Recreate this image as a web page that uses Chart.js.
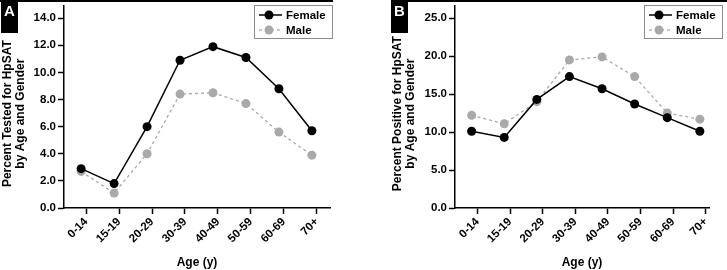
<!DOCTYPE html>
<html>
<head>
<meta charset="utf-8">
<script src="https://cdn.jsdelivr.net/npm/chart.js@4.4.0/dist/chart.umd.min.js"></script>
<style>
  body { margin: 0; background: #fff; width: 727px; height: 270px; overflow: hidden; position: relative; }
  canvas { position: absolute; top: 0; }
  #chart-tested { left: 0; }
  #chart-positive { left: 365px; }
</style>
</head>
<body>
<canvas id="chart-tested" width="363" height="270"></canvas>
<canvas id="chart-positive" width="362" height="270"></canvas>
<script>
// data
const ageGroups = ['0-14', '15-19', '20-29', '30-39', '40-49', '50-59', '60-69', '70+'];
const testedFemale = [2.9, 1.8, 6.0, 10.9, 11.9, 11.1, 8.8, 5.7];
const testedMale = [2.7, 1.1, 4.0, 8.4, 8.5, 7.7, 5.6, 3.9];
const positiveFemale = [10.1, 9.3, 14.3, 17.3, 15.7, 13.7, 11.9, 10.1];
const positiveMale = [12.2, 11.1, 14.0, 19.5, 19.9, 17.3, 12.5, 11.7];
const testedTicks = [0, 2, 4, 6, 8, 10, 12, 14];
const positiveTicks = [0, 5, 10, 15, 20, 25];

const FONT = '"Liberation Sans", Arial, Helvetica, sans-serif';
const BLACK = '#000';
const GREY = '#a9a9a9';

// top rule, panel letter tab and the boxed legend
const panelDecor = {
  id: 'panelDecor',
  afterDraw(chart, args, o) {
    const ctx = chart.ctx;
    ctx.save();
    ctx.fillStyle = BLACK;
    ctx.fillRect(o.ruleFrom, 0, o.ruleTo - o.ruleFrom, 2);
    ctx.fillRect(o.tabX, 0, 17, 33);
    ctx.fillStyle = '#fff';
    ctx.font = 'bold 15px ' + FONT;
    ctx.textAlign = 'center';
    ctx.textBaseline = 'middle';
    ctx.fillText(o.letter, o.tabX + 8.5, 12);

    const lg = o.legend;
    ctx.strokeStyle = '#8c8c8c';
    ctx.lineWidth = 1;
    ctx.strokeRect(lg.x + 0.5, 5.5, lg.w, 33);
    ctx.font = 'bold 11.5px ' + FONT;
    ctx.textAlign = 'left';
    chart.data.datasets.forEach((ds, i) => {
      const cy = 15 + i * 15;
      ctx.strokeStyle = ds.borderColor;
      ctx.lineWidth = ds.borderWidth;
      ctx.setLineDash(ds.borderDash || []);
      ctx.beginPath();
      ctx.moveTo(lg.x + 5, cy);
      ctx.lineTo(lg.x + 28, cy);
      ctx.stroke();
      ctx.setLineDash([]);
      ctx.fillStyle = ds.pointBackgroundColor;
      ctx.beginPath();
      ctx.arc(lg.x + 15, cy, ds.pointRadius, 0, Math.PI * 2);
      ctx.fill();
      ctx.fillStyle = BLACK;
      ctx.fillText(ds.label, lg.x + 32, cy + 0.5);
    });
    ctx.restore();
  }
};

function series(values) {
  return values.map((v, i) => ({ x: i, y: v }));
}

function makeChart(id, cfg) {
  const tickFont = { family: FONT, size: 11.5, weight: 'bold' };
  const titleFont = { family: FONT, size: 12, weight: 'bold', lineHeight: 1.1 };

  return new Chart(document.getElementById(id), {
    type: 'line',
    data: {
      datasets: [
        {
          label: 'Female',
          data: series(cfg.female),
          borderColor: BLACK,
          borderWidth: 1.5,
          pointBackgroundColor: BLACK,
          pointBorderColor: BLACK,
          pointRadius: 4.5,
          pointBorderWidth: 0
        },
        {
          label: 'Male',
          data: series(cfg.male),
          borderColor: GREY,
          borderWidth: 1.3,
          borderDash: [3, 3],
          pointBackgroundColor: GREY,
          pointBorderColor: GREY,
          pointRadius: 4.5,
          pointBorderWidth: 0
        }
      ]
    },
    options: {
      responsive: false,
      animation: false,
      layout: { padding: { left: cfg.padLeft, top: 6, right: cfg.padRight, bottom: 0 } },
      plugins: {
        legend: { display: false },
        tooltip: { enabled: false },
        panelDecor: cfg.decor
      },
      scales: {
        x: {
          type: 'linear',
          min: cfg.xMin,
          max: cfg.xMax,
          afterBuildTicks: s => { s.ticks = ageGroups.map((c, i) => ({ value: i + cfg.tickShift })); },
          afterFit: s => { s.height = 62; s.paddingLeft = 0; s.paddingRight = 0; },
          border: { color: BLACK, width: 1.5 },
          grid: { drawOnChartArea: false, tickLength: 6, tickColor: BLACK, tickWidth: 1.5 },
          ticks: {
            autoSkip: false, minRotation: 45, maxRotation: 45, padding: 1,
            color: BLACK, font: tickFont,
            callback: (v, i) => ageGroups[i]
          },
          title: { display: true, text: 'Age (y)', color: BLACK, font: titleFont, padding: { top: 0, bottom: 1 } }
        },
        y: {
          type: 'linear',
          min: 0,
          max: cfg.yMax,
          afterBuildTicks: s => { s.ticks = cfg.yTicks.map(v => ({ value: v })); },
          afterFit: s => { s.width = cfg.axisLeft - cfg.padLeft; s.paddingTop = 0; s.paddingBottom = 0; },
          border: { color: BLACK, width: 1.5 },
          grid: { drawOnChartArea: false, tickLength: 6, tickColor: BLACK, tickWidth: 1.5 },
          ticks: { color: BLACK, font: tickFont, padding: 2, callback: v => v.toFixed(1) },
          title: {
            display: true, text: cfg.yTitle, color: BLACK, font: titleFont,
            padding: { top: 0, bottom: 0 }
          }
        }
      }
    },
    plugins: [panelDecor]
  });
}

makeChart('chart-tested', {
  female: testedFemale,
  male: testedMale,
  yTicks: testedTicks,
  yMax: 14.9,
  xMin: -0.52,
  xMax: 7.55,
  tickShift: 0.15,
  padLeft: 1,
  axisLeft: 64,
  padRight: 33,
  yTitle: ['Percent Tested for HpSAT    ', 'by Age and Gender    '],
  decor: { letter: 'A', tabX: 1, ruleFrom: 0, ruleTo: 333, legend: { x: 254, w: 78 } }
});

makeChart('chart-positive', {
  female: positiveFemale,
  male: positiveMale,
  yTicks: positiveTicks,
  yMax: 26.6,
  xMin: -0.51,
  xMax: 7.28,
  tickShift: 0.18,
  padLeft: 26,
  axisLeft: 90,
  padRight: 18,
  yTitle: ['Percent Positive for HpSAT    ', 'by Age and Gender    '],
  decor: { letter: 'B', tabX: 26, ruleFrom: 26, ruleTo: 362, legend: { x: 279, w: 78 } }
});
</script>
</body>
</html>
